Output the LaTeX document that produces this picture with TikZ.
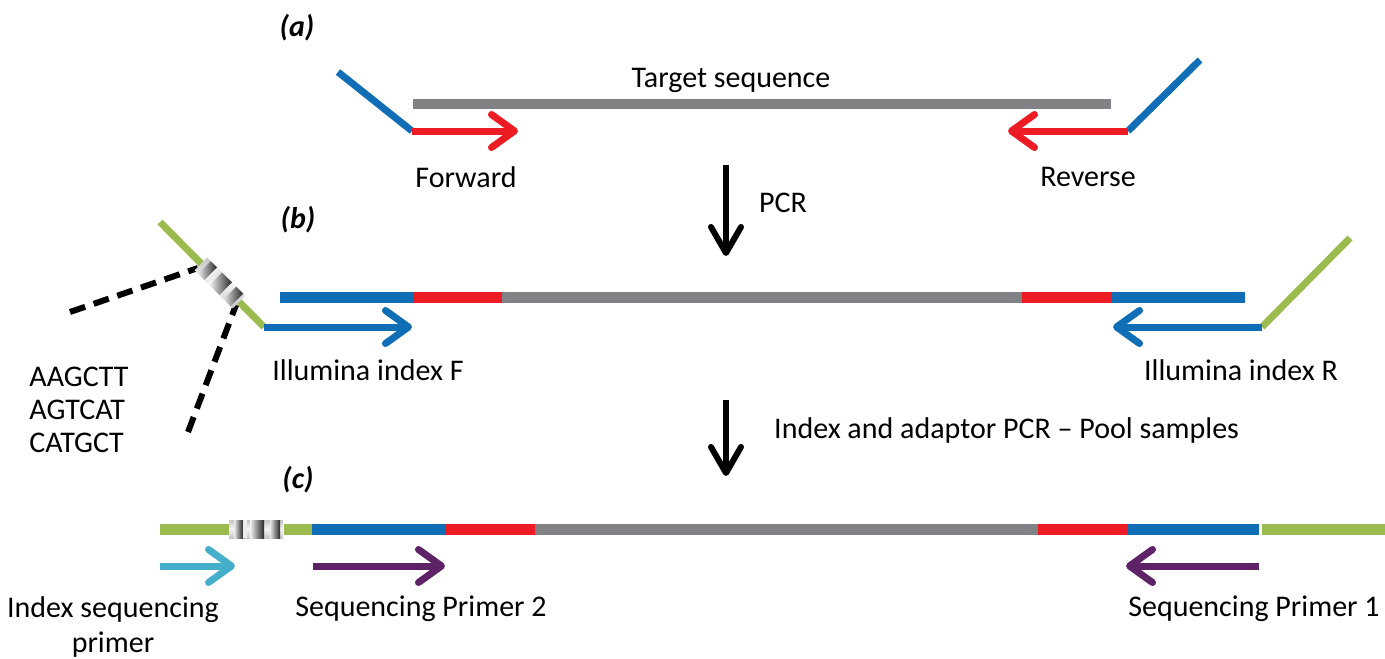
\documentclass[tikz,border=0pt]{standalone}
\usepackage{fontspec}
\setmainfont{Carlito}
\usetikzlibrary{arrows.meta}
\definecolor{cblue}{HTML}{0F6EB5}
\definecolor{cred}{HTML}{ED1C24}
\definecolor{cgray}{HTML}{808285}
\definecolor{cgreen}{HTML}{9BBB4F}
\definecolor{ccyan}{HTML}{45AFCB}
\definecolor{cpurple}{HTML}{5E2367}
\newcommand{\barcodeblock}{%
  \shade[top color=gray!45, bottom color=gray!45, middle color=gray!8] (-27,-9) rectangle (27,9);
  \shade[left color=gray!15, right color=black!85] (-22,-9) rectangle (-13,9);
  \fill[gray!15] (-13,-9) rectangle (-9,9);
  \shade[left color=gray!10, right color=black!85] (-6,-9) rectangle (8,9);
  \shade[left color=gray!20, right color=black!85] (14,-9) rectangle (24,9);
}
\begin{document}
\begin{tikzpicture}[x=1pt,y=-1pt,
  bar/.style={line width=11pt},
  thinbar/.style={line width=10pt},
  harr/.style={line width=7pt, -{Straight Barb[length=23pt,width=33pt,round]}},
  varr/.style={line width=6pt, -{Straight Barb[length=26pt,width=30pt,round]}},
  tail/.style={line width=7pt},
  dsh/.style={line width=6pt, dash pattern=on 16pt off 9pt},
  lbl/.style={font=\fontsize{30}{33}\selectfont, inner sep=0pt},
  tag/.style={font=\fontsize{30}{33}\selectfont\bfseries\itshape, inner sep=0pt},
]
\useasboundingbox (0,0) rectangle (1385,659);
\fill[white] (0,0) rectangle (1385,659);

% ---------------- (a)
\node[tag] (ta) at (297,28) {(a)};
\node[lbl] (tseq) at (731,80) {Target sequence};
\coordinate (g1) at (413,104); \coordinate (g2) at (1111,104);
\draw[thinbar, cgray] (g1) -- (g2);
\coordinate (fb) at (338,72); \coordinate (fs) at (412,131); \coordinate (fe) at (518,131);
\draw[tail, cblue] (fb) -- (fs);
\draw[harr, cred] (fs) -- (fe);
\node[lbl] (tfwd) at (466,177) {Forward};
\coordinate (rb) at (1200,60); \coordinate (rs) at (1128,131); \coordinate (re) at (1008,131);
\draw[tail, cblue] (rb) -- (rs);
\draw[harr, cred] (rs) -- (re);
\node[lbl] (trev) at (1088,177) {Reverse};

\coordinate (p1) at (726,165); \coordinate (p2) at (726,256);
\draw[varr] (p1) -- (p2);
\node[lbl] (tpcr) at (783,203) {PCR};

% ---------------- (b)
\node[tag] (tb) at (298,220) {(b)};
\coordinate (b0) at (280,297); \coordinate (b1) at (413,297); \coordinate (b2) at (502,297);
\coordinate (b3) at (1022,297); \coordinate (b4) at (1112,297); \coordinate (b5) at (1245,297);
\draw[bar, cblue] (b0) -- (b1);
\draw[bar, cred] (b1) -- (b2);
\draw[bar, cgray] (b2) -- (b3);
\draw[bar, cred] (b3) -- (b4);
\draw[bar, cblue] (b4) -- (b5);

\coordinate (lg1) at (160,222); \coordinate (lg2) at (264,327);
\coordinate (bf) at (412,327);
\draw[tail, cgreen] (lg1) -- (lg2);
\coordinate (d1a) at (70,312); \coordinate (d1b) at (198,268);
\coordinate (d2a) at (188,432); \coordinate (d2b) at (236,305);
\draw[dsh] (d1a) -- (d1b);
\draw[dsh] (d2a) -- (d2b);
\begin{scope}[shift={(220,283)}, rotate=-45]
  \barcodeblock
\end{scope}
\draw[harr, cblue] (lg2) -- (bf);
\node[lbl] (tif) at (368,370) {Illumina index F};
\node[lbl, align=left] (tseqs) at (79,410) {AAGCTT\\AGTCAT\\CATGCT};

\coordinate (rg1) at (1350,238); \coordinate (rg2) at (1262,327);
\coordinate (br) at (1113,327);
\draw[tail, cgreen] (rg1) -- (rg2);
\draw[harr, cblue] (rg2) -- (br);
\node[lbl] (tir) at (1241,370) {Illumina index R};

\coordinate (q1) at (726,400); \coordinate (q2) at (726,476);
\draw[varr] (q1) -- (q2);
\node[lbl, anchor=west] (tpool) at (774,430) {Index and adaptor PCR -- Pool samples};

% ---------------- (c)
\node[tag] (tc) at (298,480) {(c)};
\coordinate (c0) at (160,529); \coordinate (c1) at (230,529); \coordinate (c2) at (284,529);
\coordinate (c3) at (312,529); \coordinate (c4) at (446,529); \coordinate (c5) at (535,529);
\coordinate (c6) at (1038,529); \coordinate (c7) at (1128,529); \coordinate (c8) at (1259,529);
\coordinate (c9) at (1262,529); \coordinate (c10) at (1385,529);
\draw[bar, cgreen] (c0) -- (c1);
\draw[bar, cgreen] (c2) -- (c3);
\draw[bar, cblue] (c3) -- (c4);
\draw[bar, cred] (c4) -- (c5);
\draw[bar, cgray] (c5) -- (c6);
\draw[bar, cred] (c6) -- (c7);
\draw[bar, cblue] (c7) -- (c8);
\draw[bar, cgreen] (c9) -- (c10);
\begin{scope}[shift={(256,529)}]
  \barcodeblock
\end{scope}

\coordinate (a1) at (160,566); \coordinate (a2) at (235,566);
\draw[harr, ccyan] (a1) -- (a2);
\node[lbl, align=center] (tisp) at (113,627) {Index sequencing\\[2pt]primer};
\coordinate (a3) at (313,566); \coordinate (a4) at (445,566);
\draw[harr, cpurple] (a3) -- (a4);
\node[lbl] (tsp2) at (421,609) {Sequencing Primer 2};
\coordinate (a5) at (1259,566); \coordinate (a6) at (1126,566);
\draw[harr, cpurple] (a5) -- (a6);
\node[lbl] (tsp1) at (1254,609) {Sequencing Primer 1};
\end{tikzpicture}
\end{document}
